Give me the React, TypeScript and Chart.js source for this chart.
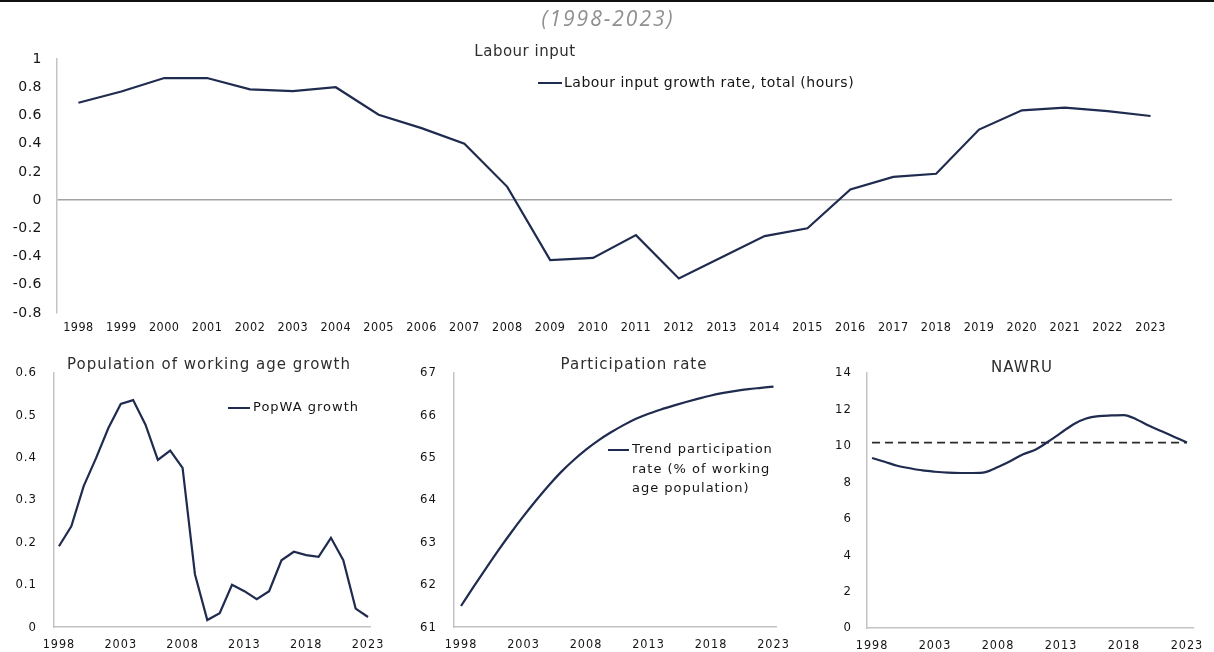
import React, { useEffect, useRef } from 'react';
import { Chart, registerables } from 'chart.js';

Chart.register(...registerables);

// ---------------- data ----------------
const years = ['1998', '1999', '2000', '2001', '2002', '2003', '2004', '2005', '2006', '2007', '2008', '2009', '2010',
  '2011', '2012', '2013', '2014', '2015', '2016', '2017', '2018', '2019', '2020', '2021', '2022', '2023'];

const labourInput = [0.69, 0.77, 0.865, 0.865, 0.785, 0.773, 0.8, 0.605, 0.51, 0.4, 0.094, -0.425, -0.41,
  -0.248, -0.555, -0.405, -0.255, -0.2, 0.076, 0.165, 0.187, 0.5, 0.636, 0.655, 0.63, 0.596];

const popWA = [0.191, 0.238, 0.333, 0.399, 0.47, 0.527, 0.536, 0.478, 0.395, 0.417, 0.376, 0.125, 0.017,
  0.033, 0.1, 0.085, 0.066, 0.085, 0.158, 0.178, 0.17, 0.166, 0.211, 0.158, 0.044, 0.024];

const participation = [61.5, 61.95, 62.39, 62.82, 63.23, 63.62, 63.99, 64.34, 64.66, 64.94, 65.19, 65.41, 65.6,
  65.77, 65.92, 66.04, 66.14, 66.23, 66.315, 66.395, 66.47, 66.53, 66.58, 66.62, 66.65, 66.68];

const nawru = [9.33, 9.13, 8.91, 8.77, 8.65, 8.58, 8.53, 8.51, 8.51, 8.56, 8.84, 9.17, 9.54,
  9.8, 10.24, 10.71, 11.19, 11.5, 11.63, 11.67, 11.69, 11.45, 11.1, 10.8, 10.49, 10.18];

const nawruReference = [10.18, 10.18, 10.18, 10.18, 10.18, 10.18, 10.18, 10.18, 10.18, 10.18, 10.18, 10.18, 10.18,
  10.18, 10.18, 10.18, 10.18, 10.18, 10.18, 10.18, 10.18, 10.18, 10.18, 10.18, 10.18, 10.18];

const smallTickYears = [1998, 2003, 2008, 2013, 2018, 2023];

const subtitle = '(1998-2023)';
const labourTitle = 'Labour input';
const labourLegend = ['Labour input growth rate, total (hours)'];
const popTitle = 'Population of working age growth';
const popLegend = ['PopWA growth'];
const partTitle = 'Participation rate';
const partLegend = ['Trend participation', 'rate (% of working', 'age population)'];
const nawruTitle = 'NAWRU';

// ---------------- styles ----------------
const NAVY = '#1f2b4f';
const FONT = "'DejaVu Sans', Verdana, sans-serif";
const FONT_COND = "'DejaVu Sans Condensed', 'DejaVu Sans', Verdana, sans-serif";
const TICK = '#141414';
const TITLE = '#2e2e2e';
const AXIS = '#c4c4c4';

const fmt1 = (v: any) => {
  const r = Math.round(Number(v) * 10) / 10;
  return String(r === 0 ? 0 : r);
};

type Deco = {
  spacing: number;
  titles: { text: string; x: number; y: number; size: number }[];
  legend?: { x1: number; x2: number; y: number; tx: number; lines: string[]; lh: number; size: number };
};

function decoPlugin(d: Deco) {
  return {
    id: 'deco',
    beforeUpdate(chart: any) {
      chart.ctx.letterSpacing = d.spacing + 'px';
    },
    beforeDraw(chart: any) {
      chart.ctx.letterSpacing = d.spacing + 'px';
    },
    afterDraw(chart: any) {
      const ctx = chart.ctx as CanvasRenderingContext2D;
      ctx.save();
      (ctx as any).letterSpacing = d.spacing + 'px';
      ctx.fillStyle = TITLE;
      ctx.textAlign = 'center';
      ctx.textBaseline = 'middle';
      for (const t of d.titles) {
        ctx.font = `${t.size}px ${FONT}`;
        ctx.fillText(t.text, t.x, t.y);
      }
      if (d.legend) {
        const l = d.legend;
        ctx.strokeStyle = NAVY;
        ctx.lineWidth = 2;
        ctx.beginPath();
        ctx.moveTo(l.x1, l.y);
        ctx.lineTo(l.x2, l.y);
        ctx.stroke();
        ctx.fillStyle = TICK;
        ctx.textAlign = 'left';
        ctx.font = `${l.size}px ${FONT}`;
        l.lines.forEach((s, i) => ctx.fillText(s, l.tx, l.y + i * l.lh));
      }
      ctx.restore();
    },
  };
}

function ChartBox({ left, top, width, height, make }: { left: number; top: number; width: number; height: number; make: () => any }) {
  const ref = useRef<HTMLCanvasElement>(null);
  useEffect(() => {
    const chart = new Chart(ref.current as HTMLCanvasElement, make());
    return () => chart.destroy();
  }, []);
  return (
    <canvas
      ref={ref}
      width={width}
      height={height}
      style={{ position: 'absolute', left, top, width, height, display: 'block' }}
    />
  );
}

const basePlugins = {
  legend: { display: false },
  tooltip: { enabled: false },
  title: { display: false },
};

function makeTop() {
  return {
    type: 'line',
    data: {
      labels: years,
      datasets: [
        { data: labourInput, borderColor: NAVY, borderWidth: 2.2, pointRadius: 0, tension: 0, fill: false },
      ],
    },
    options: {
      animation: false,
      responsive: false,
      events: [],
      layout: { padding: { top: 39, right: 42, bottom: 0, left: 0 } },
      plugins: basePlugins,
      scales: {
        x: {
          type: 'category',
          offset: true,
          grid: { display: false, drawTicks: false },
          border: { display: false },
          ticks: { color: TICK, font: { family: FONT_COND, size: 12.5 }, padding: 7, maxRotation: 0, autoSkip: false },
          afterFit: (s: any) => { s.height = 27; },
        },
        y: {
          min: -0.8,
          max: 1,
          grid: {
            color: (c: any) => (c.tick && Math.abs(c.tick.value) < 1e-9 ? '#a3a3a3' : 'rgba(0,0,0,0)'),
            lineWidth: 1.5,
            drawTicks: false,
          },
          border: { display: true, color: AXIS, width: 1.5 },
          ticks: { stepSize: 0.2, padding: 15, color: TICK, font: { family: FONT, size: 14 }, callback: fmt1 },
          afterFit: (s: any) => { s.width = 57; },
        },
      },
    },
    plugins: [
      decoPlugin({
        spacing: 0.5,
        titles: [{ text: labourTitle, x: 525, y: 32, size: 15 }],
        legend: { x1: 538, x2: 562, y: 63, tx: 564, lines: labourLegend, lh: 19, size: 14 },
      }),
    ],
  };
}

function makeSmall(opts: {
  values: number[];
  extra?: number[];
  tension: number;
  xmin: number;
  xmax: number;
  ymin: number;
  ymax: number;
  step: number;
  yWidth: number;
  padRight: number;
  yPad: number;
  fmt?: (v: any) => string;
  deco: Deco;
}) {
  const pts = (arr: number[]) => years.map((y, i) => ({ x: Number(y), y: arr[i] }));
  const datasets: any[] = [
    {
      data: pts(opts.values), borderColor: NAVY, borderWidth: 2.2, pointRadius: 0, tension: opts.tension,
      cubicInterpolationMode: opts.tension > 0 ? 'monotone' : 'default', fill: false,
    },
  ];
  if (opts.extra) {
    datasets.push({
      data: pts(opts.extra), borderColor: '#2b2b2b', borderWidth: 1.8, borderDash: [8, 5], pointRadius: 0, tension: 0, fill: false,
    });
  }
  return {
    type: 'line',
    data: { datasets },
    options: {
      animation: false,
      responsive: false,
      events: [],
      layout: { padding: { top: 33, right: opts.padRight, bottom: 0, left: 0 } },
      plugins: basePlugins,
      scales: {
        x: {
          type: 'linear',
          min: opts.xmin,
          max: opts.xmax,
          grid: { display: false, drawTicks: false },
          border: { display: true, color: AXIS, width: 1.5 },
          ticks: { color: TICK, font: { family: FONT_COND, size: 12.5 }, padding: 10, maxRotation: 0, autoSkip: false, callback: (v: any) => String(v) },
          afterBuildTicks: (s: any) => { s.ticks = smallTickYears.map((v) => ({ value: v })); },
          afterFit: (s: any) => { s.height = 24; },
        },
        y: {
          min: opts.ymin,
          max: opts.ymax,
          grid: { display: false, drawTicks: false },
          border: { display: true, color: AXIS, width: 1.5 },
          ticks: { stepSize: opts.step, padding: opts.yPad, color: TICK, font: { family: FONT_COND, size: 13 }, callback: opts.fmt || ((v: any) => String(v)) },
          afterFit: (s: any) => { s.width = opts.yWidth; },
        },
      },
    },
    plugins: [decoPlugin(opts.deco)],
  };
}

export default function App() {
  return (
    <div style={{ position: 'fixed', left: 0, top: 0, width: 1214, height: 652, background: '#fff', overflow: 'hidden' }}>
      <div style={{ position: 'absolute', left: 0, top: 0, width: 1214, height: 2, background: '#111' }} />
      <ChartBox left={0} top={20} width={1214} height={320} make={makeTop} />
      <div
        style={{
          position: 'absolute', left: 0, top: 7, width: 1214, textAlign: 'center', fontFamily: "'Open Sans', sans-serif",
          fontStyle: 'italic', fontSize: 21, lineHeight: '22px', color: '#8f8f8f', letterSpacing: '2px', textIndent: '2px',
        }}
      >
        {subtitle}
      </div>
      <ChartBox
        left={0} top={340} width={400} height={312}
        make={() => makeSmall({
          values: popWA, tension: 0, xmin: 1997.6, xmax: 2023.16, ymin: 0, ymax: 0.6, step: 0.1,
          yWidth: 54, padRight: 30, yPad: 17, fmt: fmt1,
          deco: {
            spacing: 1,
            titles: [{ text: popTitle, x: 209, y: 25, size: 15 }],
            legend: { x1: 228, x2: 250, y: 68, tx: 253, lines: popLegend, lh: 19, size: 13 },
          },
        })}
      />
      <ChartBox
        left={400} top={340} width={400} height={312}
        make={() => makeSmall({
          values: participation, tension: 0.4, xmin: 1997.44, xmax: 2023.24, ymin: 61, ymax: 67, step: 1,
          yWidth: 54, padRight: 22, yPad: 17,
          deco: {
            spacing: 1,
            titles: [{ text: partTitle, x: 234, y: 25, size: 15 }],
            legend: { x1: 208, x2: 229, y: 110, tx: 232, lines: partLegend, lh: 19.3, size: 13 },
          },
        })}
      />
      <ChartBox
        left={800} top={340} width={414} height={312}
        make={() => makeSmall({
          values: nawru, extra: nawruReference, tension: 0.4, xmin: 1997.6, xmax: 2023.48, ymin: 0, ymax: 14, step: 2,
          yWidth: 67, padRight: 21, yPad: 15,
          deco: {
            spacing: 1,
            titles: [{ text: nawruTitle, x: 222, y: 28, size: 15 }],
          },
        })}
      />
    </div>
  );
}
